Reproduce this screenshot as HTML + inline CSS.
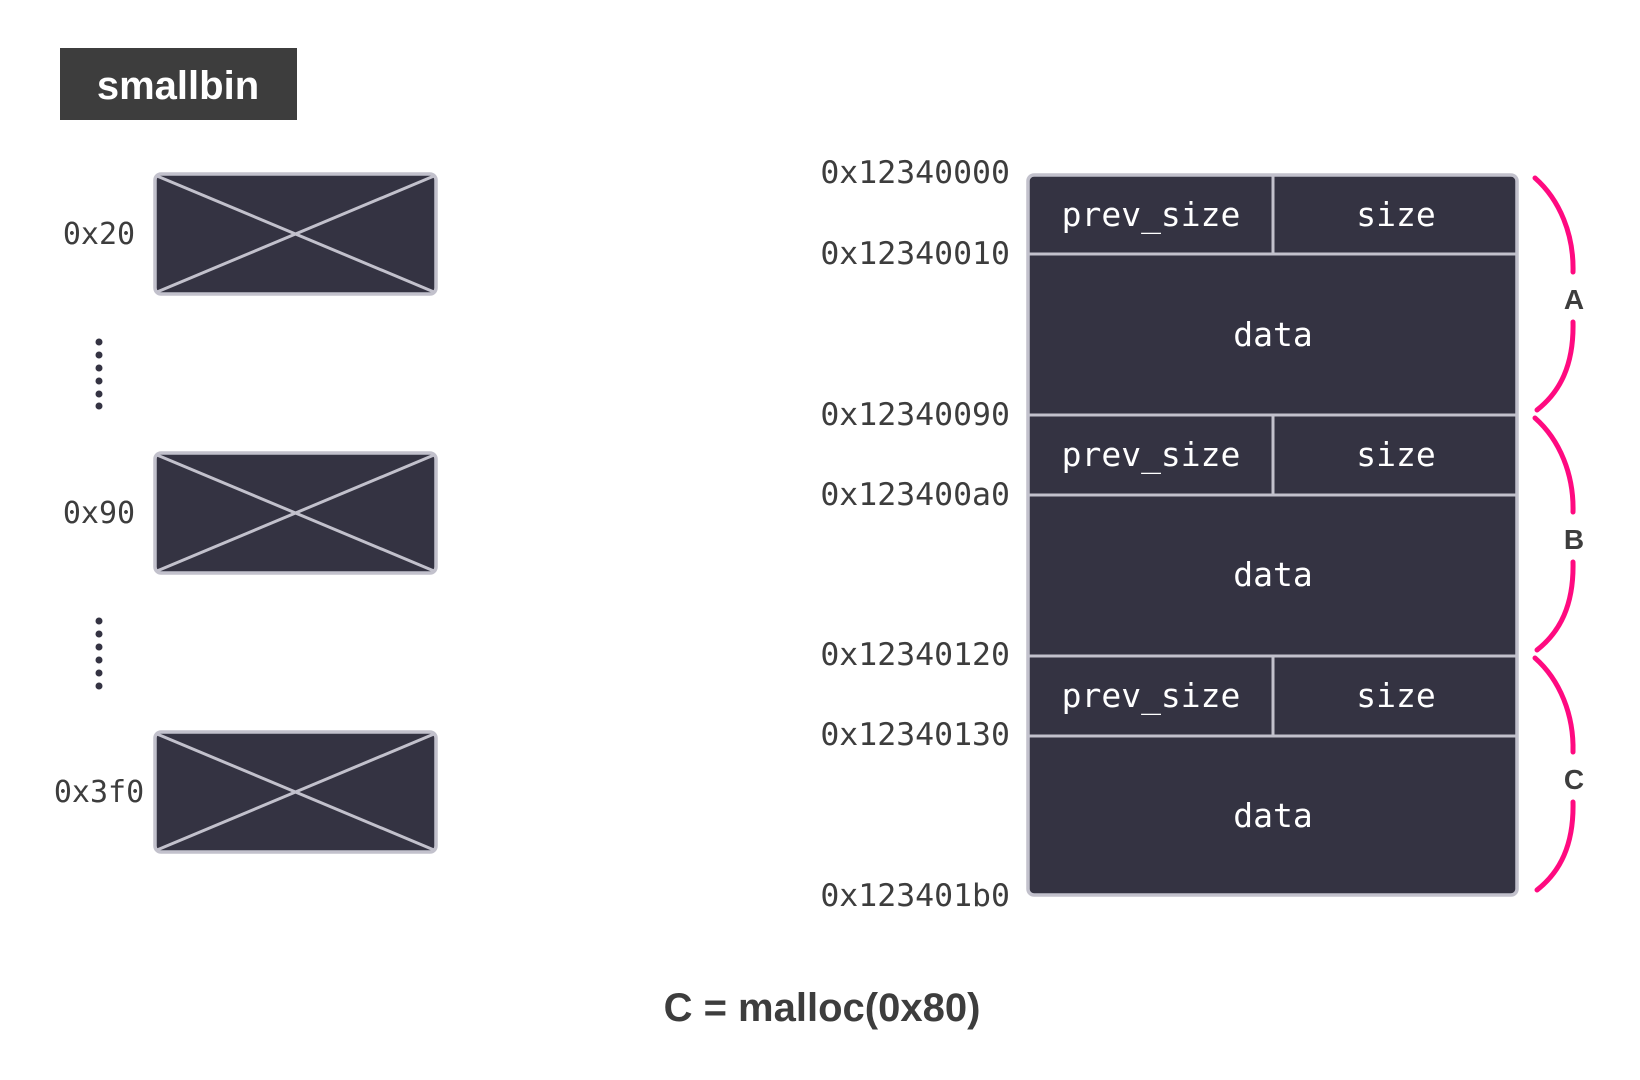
<!DOCTYPE html>
<html><head><meta charset="utf-8"><style>
html,body{margin:0;padding:0;background:#fff;width:1640px;height:1080px;overflow:hidden}
</style></head><body>
<svg width="1640" height="1080" viewBox="0 0 1640 1080" xmlns="http://www.w3.org/2000/svg">
<rect x="60" y="48" width="237" height="72" fill="#3d3d3d"/>
<text x="178" y="99" text-anchor="middle" font-family="Liberation Sans, sans-serif" font-weight="bold" font-size="40" fill="#fff">smallbin</text>
<g stroke="#c2c1cc" stroke-width="3.5" fill="#343342">
<rect x="155" y="174" width="281" height="120" rx="6"/>
<rect x="155" y="453" width="281" height="120" rx="6"/>
<rect x="155" y="732" width="281" height="120" rx="6"/>
</g>
<g stroke="#c2c1cc" stroke-width="3">
<line x1="157" y1="176" x2="434" y2="292"/><line x1="434" y1="176" x2="157" y2="292"/>
<line x1="157" y1="455" x2="434" y2="571"/><line x1="434" y1="455" x2="157" y2="571"/>
<line x1="157" y1="734" x2="434" y2="850"/><line x1="434" y1="734" x2="157" y2="850"/>
</g>
<g fill="#343342">
<circle cx="99" cy="342" r="3.5"/><circle cx="99" cy="355" r="3.5"/><circle cx="99" cy="368" r="3.5"/><circle cx="99" cy="381" r="3.5"/><circle cx="99" cy="394" r="3.5"/><circle cx="99" cy="406" r="3.5"/>
<circle cx="99" cy="621" r="3.5"/><circle cx="99" cy="634" r="3.5"/><circle cx="99" cy="647" r="3.5"/><circle cx="99" cy="660" r="3.5"/><circle cx="99" cy="673" r="3.5"/><circle cx="99" cy="686" r="3.5"/>
</g>
<g font-family="DejaVu Sans Mono, Liberation Mono, monospace" font-size="30" fill="#3d3d3d" text-anchor="middle">
<text x="99" y="244">0x20</text><text x="99" y="523">0x90</text><text x="99" y="802">0x3f0</text>
</g>
<rect x="1028" y="175" width="489" height="720" rx="6" fill="#343342" stroke="#c2c1cc" stroke-width="3.5"/>
<g stroke="#c2c1cc" stroke-width="3">
<line x1="1028" y1="254" x2="1517" y2="254"/><line x1="1028" y1="415" x2="1517" y2="415"/>
<line x1="1028" y1="495" x2="1517" y2="495"/><line x1="1028" y1="656" x2="1517" y2="656"/>
<line x1="1028" y1="736" x2="1517" y2="736"/>
<line x1="1273" y1="175" x2="1273" y2="254"/><line x1="1273" y1="415" x2="1273" y2="495"/><line x1="1273" y1="656" x2="1273" y2="736"/>
</g>
<g font-family="DejaVu Sans Mono, Liberation Mono, monospace" font-size="33" fill="#fff" text-anchor="middle">
<text x="1151" y="226">prev_size</text><text x="1396" y="226">size</text><text x="1273" y="346">data</text>
<text x="1151" y="466">prev_size</text><text x="1396" y="466">size</text><text x="1273" y="586">data</text>
<text x="1151" y="707">prev_size</text><text x="1396" y="707">size</text><text x="1273" y="827">data</text>
</g>
<g font-family="DejaVu Sans Mono, Liberation Mono, monospace" font-size="31.5" fill="#3d3d3d" text-anchor="end">
<text x="1010" y="183">0x12340000</text><text x="1010" y="264">0x12340010</text>
<text x="1010" y="425">0x12340090</text><text x="1010" y="505">0x123400a0</text>
<text x="1010" y="665">0x12340120</text><text x="1010" y="745">0x12340130</text>
<text x="1010" y="906">0x123401b0</text>
</g>
<g fill="none" stroke="#ff0a80" stroke-width="5" stroke-linecap="round">
<path d="M1535,178 C1560,200 1574,235 1573,272"/><path d="M1573,322 C1574,365 1560,392 1537,410"/>
<path d="M1535,418 C1560,440 1574,475 1573,512"/><path d="M1573,562 C1574,605 1560,632 1537,650"/>
<path d="M1535,658 C1560,680 1574,715 1573,752"/><path d="M1573,802 C1574,845 1560,872 1537,890"/>
</g>
<g font-family="Liberation Sans, sans-serif" font-weight="bold" font-size="28" fill="#3d3d3d" text-anchor="middle">
<text x="1574" y="309">A</text><text x="1574" y="549">B</text><text x="1574" y="789">C</text>
</g>
<text x="822" y="1021" text-anchor="middle" font-family="Liberation Sans, sans-serif" font-weight="bold" font-size="40" fill="#3d3d3d">C = malloc(0x80)</text>
</svg>
</body></html>
